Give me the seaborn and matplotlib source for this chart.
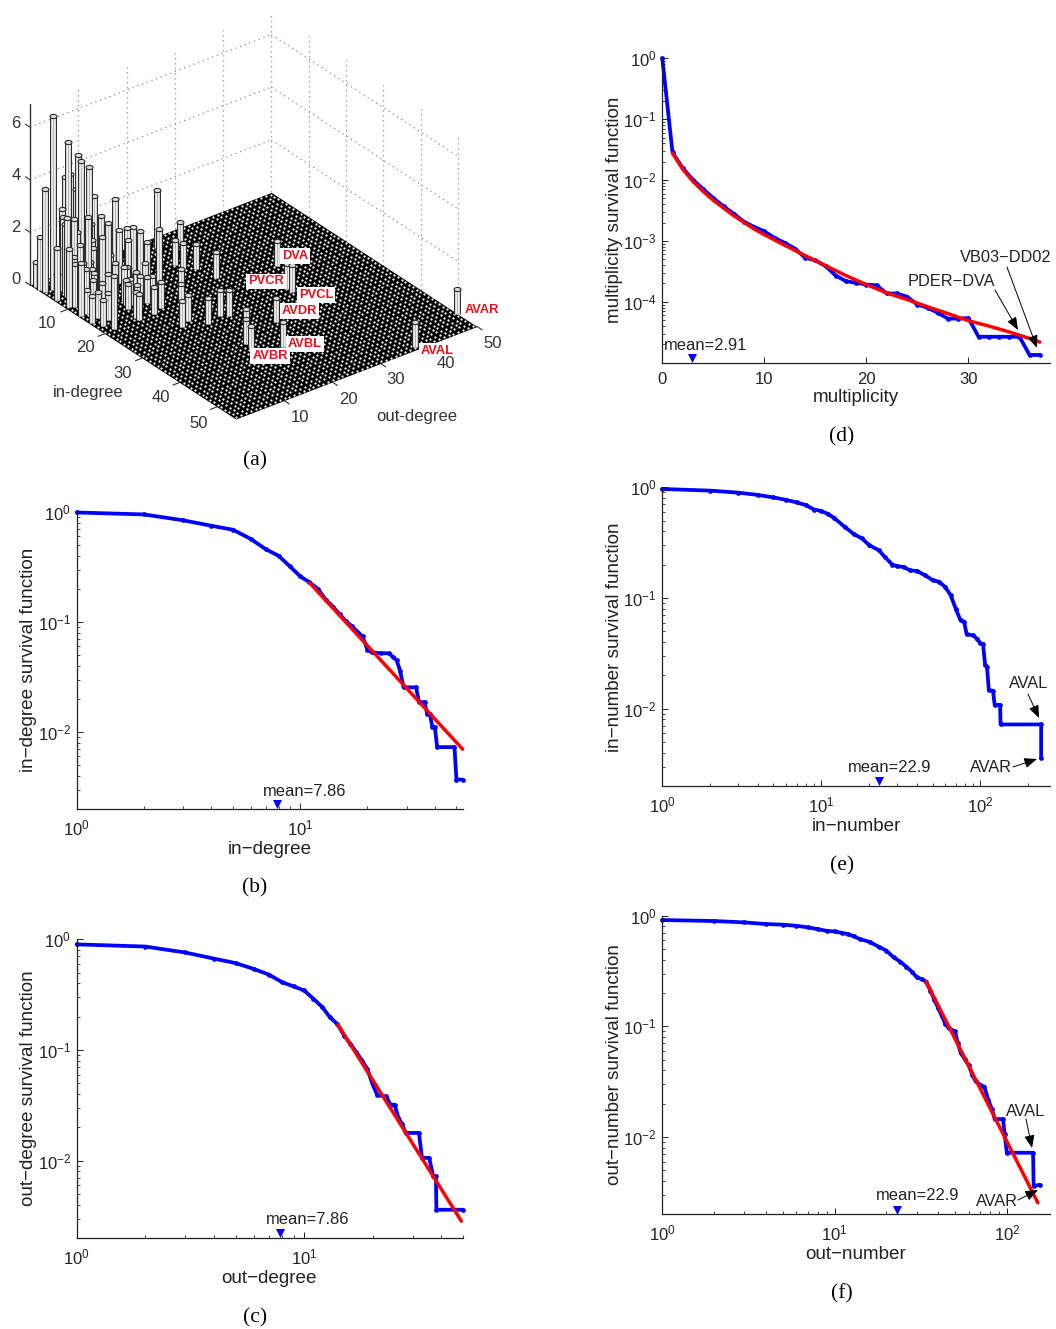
import numpy as np
import seaborn as sns
import matplotlib
matplotlib.use("Agg")
import matplotlib.pyplot as plt
from matplotlib.markers import MarkerStyle
from matplotlib.ticker import NullFormatter, LogLocator
from matplotlib.transforms import Affine2D
from mpl_toolkits.mplot3d import proj3d

# panel (a): in-degree, out-degree and height of every bar
BAR_IN = [49.8, 54.1, 19.5, 26.5, 27.7, 33.9, 41.1, 33.7, 36.7, 38.1, 16.6, 12.4, 27.8, 26.8, 27.8,
          25.9, 25.0, 19.1, 15.3, 11.1, 9.1, 4.0, 3.1, 11.8, 18.9, 19.9, 19.9, 19.0, 19.7, 17.9,
          15.8, 12.9, 14.6, 7.2, 3.5, 4.3, 5.0, 5.6, 6.1, 3.9, 3.5, 4.8, 3.2, 6.3, 2.2, 1.1,
          3.9, 4.8, 6.8, 7.6, 8.6, 10.2, 10.9, 8.3, 8.4, 8.7, 10.5, 11.2, 6.7, 9.4, 11.0, 11.0,
          8.1, 6.6, 8.7, 8.4, 12.3, 13.4, 15.2, 16.2, 16.2, 16.7, 13.1, 15.3, 16.7, 13.1, 15.7,
          5.5, 6.0, 7.0, 8.0, 9.0, 9.0, 10.0, 12.0, 11.0, 13.0, 14.0, 13.0, 6.0, 8.0,
          15.0, 16.0, 14.0, 17.0, 12.0, 16.0, 17.0, 14.0, 9.0, 11.0, 13.0, 10.0]
BAR_OUT = [49.8, 37.8, 36.0, 32.7, 32.8, 24.7, 20.5, 18.7, 16.4, 16.3, 25.7, 24.8, 15.4, 18.6, 19.6,
           11.4, 13.4, 16.5, 19.4, 23.0, 23.0, 27.9, 24.0, 17.5, 12.5, 10.3, 7.2, 7.2, 2.2, 1.2,
           0.5, 0.5, 8.6, 12.0, 2.0, 4.5, 6.0, 6.2, 7.6, 5.3, 4.5, 5.8, 0.6, 8.3, 0.3, 0.3,
           3.6, 3.2, 2.3, 3.2, 5.4, 6.9, 7.8, 12.1, 13.6, 14.5, 14.7, 15.5, 0.5, 0.7, 1.8, 6.3,
           6.5, 0.5, 5.6, 9.8, 8.1, 9.1, 10.2, 10.3, 11.6, 12.4, 1.7, 2.3, 3.2, 10.2, 12.8,
           3.0, 5.0, 4.0, 3.0, 4.0, 6.0, 5.0, 4.0, 8.0, 6.0, 4.0, 10.0, 8.0, 10.0,
           9.0, 8.0, 11.0, 9.0, 11.0, 13.0, 14.0, 13.0, 8.0, 3.0, 3.0, 1.5]
BAR_H = [0.95, 0.95, 0.95, 0.95, 1.0, 0.92, 0.97, 0.9, 0.95, 0.82, 0.97, 0.95, 1.0, 1.0, 1.0,
         1.0, 1.0, 0.65, 0.65, 1.0, 0.95, 0.82, 2.2, 2.0, 1.0, 1.05, 1.0, 1.0, 2.0, 1.0,
         1.0, 2.0, 0.95, 3.1, 6.6, 5.5, 5.0, 4.8, 4.5, 4.2, 4.1, 3.7, 3.9, 3.4, 2.0, 0.95,
         3.0, 2.8, 3.0, 3.0, 3.0, 3.1, 2.8, 2.0, 2.0, 2.0, 2.0, 1.6, 2.0, 2.2, 2.4, 2.4,
         2.0, 1.0, 1.3, 1.3, 1.4, 1.3, 1.2, 1.1, 1.0, 1.0, 0.9, 1.0, 1.0, 2.2, 0.8,
         2.6, 2.2, 1.8, 1.6, 1.4, 1.8, 1.2, 1.3, 1.6, 1.2, 1.1, 1.2, 2.3, 1.8,
         1.0, 0.95, 0.9, 0.95, 1.0, 0.7, 0.7, 1.2, 1.4, 1.4, 1.2, 1.6]

# panel (b)
IN_DEG_X = [1, 2, 3, 4, 5, 6, 7, 8, 9, 10, 11, 12, 13, 14, 15, 16, 17, 18, 19, 20, 21, 23, 25, 26, 27,
            28, 29, 33, 34, 36, 37, 38, 39, 40, 41, 49, 50, 53.3]
IN_DEG_Y = [.99, .95, .84, .75, .69, .57, .46, .40, .32, .26, .23, .20, .16, .138, .118, .102, .092,
            .082, .074, .056, .053, .052, .052, .048, .045, .036, .0255, .0255, .0187, .0187, .0147,
            .0147, .0112, .0112, .0073, .0073, .0037, .0037]
IN_DEG_FIT_X = [11, 53.3]
IN_DEG_FIT_Y = [.228, .0070]

# panel (c)
OUT_DEG_X = [1, 2, 3, 4, 5, 6, 7, 8, 9, 10, 11, 12, 13, 14, 15, 16, 17, 18, 19, 20, 21, 23, 24, 25, 26,
             27, 28, 32, 33, 35.5, 37, 38, 38.2, 50]
OUT_DEG_Y = [.90, .86, .76, .67, .61, .54, .48, .41, .375, .345, .29, .245, .197, .172, .135, .113,
             .095, .08, .067, .049, .039, .038, .032, .032, .0245, .0213, .0178, .0178, .0106, .0106,
             .0072, .0072, .0036, .0036]
OUT_DEG_FIT_X = [14.1, 49.2]
OUT_DEG_FIT_Y = [.169, .00284]

# panel (d)
MULT_X = list(range(38))
MULT_Y = [1, .0284, .0157, .0101, .0071, .00507, .0037, .0028, .00207, .0017, .00144, .00112, .00093,
          .00075, .00053, .00048, .000385, .00027, .000218, .000205, .000192, .000187, .000137,
          .000137, .000121, 9.0e-5, 8.0e-5, 6.6e-5, 5.3e-5, 5.3e-5, 5.4e-5, 2.67e-5, 2.67e-5,
          2.67e-5, 2.67e-5, 2.67e-5, 1.34e-5, 1.34e-5]
MULT_FIT_X = [1, 2, 3, 4, 5, 6, 7, 8, 9, 10, 12, 14, 16, 18, 20, 22, 24, 26, 28, 30, 32, 34, 36, 37]
MULT_FIT_Y = [.0277, .01515, .00951, .00652, .00464, .00348, .0026, .00202, .00157, .00127, .00085,
              .000575, .000394, .00027, .000192, .00014, .000109, 8.3e-5, 6.4e-5, 4.9e-5, 4.0e-5,
              3.2e-5, 2.5e-5, 2.18e-5]

# panel (e)
IN_NUM_X = [1, 2, 3, 4, 5, 6, 7, 8, 9, 10, 11, 12, 14, 16, 18, 20, 23, 25, 28, 30, 33, 36, 40, 45, 50,
            55, 60, 65, 70, 75, 79, 82, 90, 95, 100, 104, 107, 110, 113, 120, 123, 133, 134, 241, 241]
IN_NUM_Y = [.966, .933, .895, .853, .81, .77, .73, .69, .63, .61, .575, .53, .44, .378, .345, .30, .27,
            .235, .2, .194, .19, .178, .175, .16, .145, .14, .126, .106, .08, .0627, .061, .047, .046,
            .043, .039, .038, .025, .024, .0147, .0145, .0108, .0108, .0072, .0072, .00356]

# panel (f)
OUT_NUM_X = [1, 2, 3, 4, 5, 6, 7, 8, 9, 10, 11, 12, 13, 14, 16, 18, 20, 22, 24, 26, 28, 30, 32, 34, 36,
             38, 40, 42, 44, 46, 48, 50, 52, 54, 57, 60, 63, 66, 70, 74, 78, 82, 85, 95, 97, 100, 142,
             143, 155]
OUT_NUM_Y = [.914, .895, .87, .84, .83, .81, .785, .755, .73, .72, .70, .68, .65, .615, .58, .525, .483,
             .42, .385, .347, .313, .278, .267, .254, .21, .173, .146, .123, .105, .096, .092, .09, .07,
             .0575, .0505, .0445, .0365, .0318, .0296, .0285, .0216, .0178, .0145, .0145, .0107, .0072,
             .0072, .0036, .0037]
OUT_NUM_FIT_X = [34, 151.4]
OUT_NUM_FIT_Y = [.254, .00254]

BLUE = "#0000ff"
RED = "#ff0000"
DARK = "#222222"

sns.set_style("ticks", rc={"xtick.direction": "in", "ytick.direction": "in"})
plt.rcParams["font.family"] = ["Liberation Sans", "DejaVu Sans"]
plt.rcParams["mathtext.fontset"] = "custom"
plt.rcParams["mathtext.rm"] = "Liberation Sans"
plt.rcParams["mathtext.default"] = "regular"

W, H = 1056, 1329
fig = plt.figure(figsize=(W / 100, H / 100), dpi=100)

# full-figure layer in pixel coordinates, for captions and annotations
overlay = fig.add_axes([0, 0, 1, 1], zorder=5)
overlay.set_xlim(0, W)
overlay.set_ylim(H, 0)
overlay.set_axis_off()


def survival_panel(box, x, y, xlim, ylim, xlabel, ylabel, xlabel_at, ylabel_at, mean, mean_y,
                   fit_x=None, fit_y=None, logx=True):
    left, top, right, bottom = box
    ax = fig.add_axes([left / W, 1 - bottom / H, (right - left) / W, (bottom - top) / H])
    ax.set_yscale("log")
    if logx:
        ax.set_xscale("log")
    sns.lineplot(x=x, y=y, ax=ax, color=BLUE, lw=2.7, sort=False, estimator=None, errorbar=None,
                 marker="o", markersize=3.4, markeredgewidth=0, clip_on=False)
    if fit_x is not None:
        sns.lineplot(x=fit_x, y=fit_y, ax=ax, color=RED, lw=2.5, sort=False, estimator=None,
                     errorbar=None, clip_on=False)
    sns.scatterplot(x=[mean], y=[mean_y], ax=ax, color=BLUE, marker="v", s=42, linewidth=0, clip_on=False)
    ax.set_xlim(*xlim)
    ax.set_ylim(*ylim)
    if logx:
        ax.xaxis.set_major_locator(LogLocator(base=10, numticks=6))
        ax.xaxis.set_minor_locator(LogLocator(base=10, subs=np.arange(2, 10), numticks=12))
        ax.xaxis.set_minor_formatter(NullFormatter())
        ax.yaxis.set_major_locator(LogLocator(base=10, numticks=8))
    else:
        ax.set_xticks([0, 10, 20, 30])
        ax.set_yticks([1, 1e-1, 1e-2, 1e-3, 1e-4])
    ax.yaxis.set_minor_locator(LogLocator(base=10, subs=np.arange(2, 10), numticks=12))
    ax.yaxis.set_minor_formatter(NullFormatter())
    ax.tick_params(which="major", length=4, width=0.7, color=DARK, labelcolor=DARK, labelsize=12)
    ax.tick_params(axis="x", which="major", pad=6.5)
    ax.tick_params(axis="y", which="major", pad=4)
    ax.tick_params(which="minor", length=2, width=0.6, color=DARK)
    for spine in ax.spines.values():
        spine.set_linewidth(0.9)
        spine.set_color(DARK)
    sns.despine(ax=ax)
    ax.patch.set_alpha(0)
    ax.set_xlabel(xlabel, fontsize=13.6, color=DARK, va="center")
    ax.set_ylabel(ylabel, fontsize=13.6, color=DARK, va="center")
    ax.xaxis.set_label_coords(*xlabel_at, transform=overlay.transData)
    ax.yaxis.set_label_coords(*ylabel_at, transform=overlay.transData)
    return ax


survival_panel((76.7, 512, 463, 809), IN_DEG_X, IN_DEG_Y, (1, 53.5), (.002, 1),
               "in\u2212degree", "in\u2212degree survival function", (270, 849.5), (28.5, 660),
               7.86, .0022, IN_DEG_FIT_X, IN_DEG_FIT_Y)
survival_panel((76.7, 939.3, 463, 1238), OUT_DEG_X, OUT_DEG_Y, (1, 50), (.002, 1),
               "out\u2212degree", "out\u2212degree survival function", (269, 1278.5), (28.5, 1088),
               7.86, .0022, OUT_DEG_FIT_X, OUT_DEG_FIT_Y)
survival_panel((662.3, 58.3, 1050, 362.7), MULT_X, MULT_Y, (0, 38), (1e-5, 1),
               "multiplicity", "multiplicity survival function", (856, 397.5), (614.5, 210),
               2.91, 1.18e-5, MULT_FIT_X, MULT_FIT_Y, logx=False)
survival_panel((662.3, 487.3, 1050, 786), IN_NUM_X, IN_NUM_Y, (1, 274), (.002, 1),
               "in\u2212number", "in\u2212number survival function", (856, 826.5), (614.5, 637),
               22.9, .0022)
survival_panel((662.3, 915.7, 1050, 1214.3), OUT_NUM_X, OUT_NUM_Y, (1, 178), (.002, 1),
               "out\u2212number", "out\u2212number survival function", (856, 1254.5), (614.5, 1065),
               22.9, .0022, OUT_NUM_FIT_X, OUT_NUM_FIT_Y)

# panel (a), orthographic MATLAB-style view
IN_MAX, OUT_MAX, Z_MAX = 55, 50, 6.87
ax3 = fig.add_axes([-15 / W, 1 - 490 / H, 540 / W, 540 / H], projection="3d", proj_type="ortho",
                   computed_zorder=False)
ax3.view_init(elev=30, azim=-37.5)
ax3.set_xlim(0, IN_MAX)
ax3.set_ylim(0, OUT_MAX)
ax3.set_zlim(0, Z_MAX)
ax3.set_axis_off()
ax3.patch.set_alpha(0)
ASPECT = (340, 306, 210)

grid_style = dict(color="#8a8a8a", lw=0.9, linestyle=(0, (1, 3)), zorder=0, clip_on=False)
for t in [10, 20, 30, 40, 50]:
    ax3.plot([0, 0], [t, t], [0, Z_MAX], **grid_style)
    ax3.plot([t, t], [OUT_MAX, OUT_MAX], [0, Z_MAX], **grid_style)
ax3.plot([0, 0], [0, 0], [0, Z_MAX], color="#333333", lw=1.0, zorder=3)
for z in [2, 4, 6]:
    ax3.plot([0, 0], [0, OUT_MAX], [z, z], **grid_style)
    ax3.plot([0, 50], [OUT_MAX, OUT_MAX], [z, z], **grid_style)

xx, yy = np.meshgrid([0, IN_MAX], [0, OUT_MAX])
ax3.plot_surface(xx, yy, np.zeros_like(xx), color="black", shade=False, linewidth=0, zorder=1)
gx, gy = np.meshgrid(np.arange(0.5, IN_MAX), np.arange(0.5, OUT_MAX))
ax3.scatter(gx.ravel(), gy.ravel(), np.zeros(gx.size), s=2.6, c="white", linewidths=0,
            depthshade=False, zorder=2)

for t in [10, 20, 30, 40, 50]:
    ax3.plot([t, t], [0, -1.4], [0, 0], color="#333333", lw=0.8, zorder=3)
    ax3.plot([IN_MAX, IN_MAX + 1.4], [t, t], [0, 0], color="#333333", lw=0.8, zorder=3)
for z in [0, 2, 4, 6]:
    ax3.plot([0, -1.2], [0, 0], [z, z], color="#333333", lw=0.8, zorder=3)

# far bars first, near bars last
cap = MarkerStyle("o", transform=Affine2D().scale(1, 0.6))
order = np.argsort(np.array(BAR_IN) - np.array(BAR_OUT))
for rank, i in enumerate(order):
    x, y, h = BAR_IN[i], BAR_OUT[i], BAR_H[i]
    z = 10 + rank * 0.1
    ax3.plot([x, x], [y, y], [0, h], color="#2a2a2a", lw=5.0, solid_capstyle="butt", zorder=z)
    ax3.plot([x, x], [y, y], [0, h], color="#f2f2f2", lw=3.4, solid_capstyle="butt", zorder=z + 0.01)
    ax3.plot([x, x], [y, y], [0, h], color="#b5b5b5", lw=0.8, solid_capstyle="butt", zorder=z + 0.02)
    ax3.plot([x], [y], [h], marker=cap, ms=5.0, mfc="#dcdcdc", mec="#2a2a2a", mew=0.8, zorder=z + 0.03)


def corner_px(x, y, z):
    px, py, _ = proj3d.proj_transform(x, y, z, ax3.get_proj())
    return overlay.transData.inverted().transform(ax3.transData.transform((px, py)))


# fit the floor onto the reference corners
ax3.set_box_aspect(ASPECT, zoom=1)
fig.canvas.draw()
span = corner_px(IN_MAX, OUT_MAX, 0)[0] - corner_px(0, 0, 0)[0]
ax3.set_box_aspect(ASPECT, zoom=447 / span)
fig.canvas.draw()
start = corner_px(0, 0, 0)
pos = ax3.get_position()
ax3.set_position([pos.x0 + (30 - start[0]) / W, pos.y0 - (285 - start[1]) / H, pos.width, pos.height])

TICK_Z = [("6", 16, 123), ("4", 16, 176), ("2", 16, 228), ("0", 16, 279)]
TICK_IN = [("10", 47, 323), ("20", 85, 348), ("30", 123, 373), ("40", 161, 398), ("50", 199, 423)]
TICK_OUT = [("10", 300, 418), ("20", 348, 399), ("30", 396, 380), ("40", 446, 363), ("50", 493, 343)]

NEURONS = [("DVA", 295, 256), ("PVCR", 266, 281.5), ("PVCL", 316, 295), ("AVDR", 299.5, 311),
           ("AVBL", 305, 344), ("AVBR", 270, 356), ("AVAR", 482, 310), ("AVAL", 437, 351)]
for label, x, y in NEURONS:
    overlay.text(x, y, label, fontsize=9.3, fontweight="bold", color="#e8101c", ha="center", va="center",
                 bbox=dict(facecolor="white", edgecolor="none", pad=1.4))

for label, x, y in TICK_Z + TICK_IN + TICK_OUT:
    overlay.text(x, y, label, fontsize=12, color="#333333", ha="center", va="center")
overlay.text(88, 392, "in-degree", fontsize=12, color="#333333", ha="center", va="center")
overlay.text(417, 416, "out-degree", fontsize=12, color="#333333", ha="center", va="center")

CAPTIONS = [("(a)", 255, 461), ("(b)", 255, 888), ("(c)", 255, 1318),
            ("(d)", 842, 437), ("(e)", 842, 866), ("(f)", 842, 1294)]
for label, x, y in CAPTIONS:
    overlay.text(x, y, label, fontsize=15.5, family="Liberation Serif", color="black", ha="center", va="center")

MEANS = [("mean=7.86", 304.7, 791), ("mean=7.86", 308, 1220), ("mean=2.91", 706, 346),
         ("mean=22.9", 890, 768), ("mean=22.9", 918, 1196)]
for label, x, y in MEANS:
    overlay.text(x, y, label, fontsize=11.9, color=DARK, ha="center", va="center")

NOTES = [("PDER\u2212DVA", (951, 282), (995, 290), (1018, 330)),
         ("VB03\u2212DD02", (1006, 258), (1007, 267), (1037, 348)),
         ("AVAL", (1029, 684), (1028, 694), (1039, 718)),
         ("AVAR", (991, 768), (1013, 767), (1037, 759)),
         ("AVAL", (1026, 1111), (1026, 1119), (1032, 1148)),
         ("AVAR", (997, 1202), (1018, 1200), (1038, 1190))]
for label, at, tail, tip in NOTES:
    overlay.text(*at, label, fontsize=11.8, color=DARK, ha="center", va="center")
    overlay.annotate("", xy=tip, xytext=tail, xycoords="data", textcoords="data",
                     arrowprops=dict(arrowstyle="-|>,head_length=0.55,head_width=0.22", color="black",
                                     lw=0.7, mutation_scale=14, shrinkA=0, shrinkB=0))

fig.savefig("out.png", dpi=100)
